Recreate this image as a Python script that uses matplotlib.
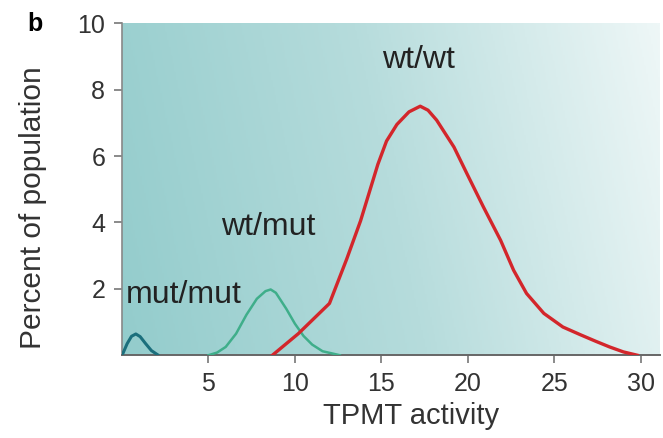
import numpy as np
import matplotlib
matplotlib.use("Agg")
import matplotlib.pyplot as plt
from matplotlib.colors import LinearSegmentedColormap

plt.rcParams['font.family'] = ['Liberation Sans', 'DejaVu Sans']

# Data
mutmut_x = [0.05, 0.3, 0.55, 0.8, 1.05, 1.35, 1.7, 2.1]
mutmut_y = [0.05, 0.35, 0.57, 0.64, 0.56, 0.36, 0.14, 0.0]

wtmut_x = [5.0, 5.5, 6.0, 6.6, 7.2, 7.8, 8.3, 8.6, 8.9, 9.5, 10.0, 10.5, 11.0, 11.6, 12.6]
wtmut_y = [0.0, 0.08, 0.25, 0.65, 1.22, 1.7, 1.93, 1.98, 1.88, 1.4, 0.95, 0.58, 0.32, 0.12, 0.0]

wtwt_x = [8.7, 10.2, 12.0, 13.0, 13.8, 14.3, 14.8, 15.3, 15.9, 16.6, 17.25, 17.7, 18.2,
          19.2, 19.95, 20.9, 21.9, 22.65, 23.4, 24.4, 25.5, 26.5, 27.4, 28.2, 29.0, 29.8]
wtwt_y = [0.0, 0.65, 1.56, 2.9, 4.05, 4.9, 5.75, 6.45, 6.95, 7.33, 7.5, 7.38, 7.08,
          6.27, 5.47, 4.47, 3.46, 2.56, 1.86, 1.26, 0.85, 0.62, 0.42, 0.25, 0.1, 0.0]

labels = ["mut/mut", "wt/mut", "wt/wt"]
label_x = [3.6, 8.47, 17.16]
label_y = [1.8, 3.87, 8.9]

xticks = [5, 10, 15, 20, 25, 30]
yticks = [2, 4, 6, 8, 10]

fig = plt.figure(figsize=(6.63, 4.38), dpi=100)
ax = fig.add_axes([0.184, 0.189, 0.811, 0.758])
ax.set_xlim(0, 31.1)
ax.set_ylim(0, 10)

# gradient background
nx, ny = 300, 200
u = np.linspace(0, 1, nx)[None, :]
v = np.linspace(0, 1, ny)[:, None]
t = np.clip(0.88 * u + 0.12 * v, 0, 1)
cmap = LinearSegmentedColormap.from_list("bg", ["#93cccc", "#b6dcdc", "#eef7f7"])
ax.imshow(t, cmap=cmap, extent=[0, 31.1, 0, 10], origin="lower",
          aspect="auto", zorder=0, vmin=0, vmax=1)

ax.plot(mutmut_x, mutmut_y, color="#1b6f7c", lw=2.2, zorder=3, solid_capstyle="round")
ax.plot(wtmut_x, wtmut_y, color="#3fae8a", lw=1.8, zorder=3, solid_joinstyle="round")
ax.plot(wtwt_x, wtwt_y, color="#d3262b", lw=2.4, zorder=4, solid_joinstyle="round")

for s, lx, ly in zip(labels, label_x, label_y):
    ax.text(lx, ly, s, ha="center", va="center", fontsize=23, color="#222222", zorder=5)

ax.set_xticks(xticks)
ax.set_yticks(yticks)
ax.tick_params(axis="both", direction="out", length=6, width=1.2, color="#777777",
               labelsize=18, labelcolor="#333333", pad=6)
for sp in ["top", "right"]:
    ax.spines[sp].set_visible(False)
ax.spines["left"].set_color("#888888")
ax.spines["left"].set_linewidth(1.2)
ax.spines["bottom"].set_color("#666666")
ax.spines["bottom"].set_linewidth(1.4)

ax.set_xlabel("TPMT activity", fontsize=21, color="#333333")
ax.set_ylabel("Percent of population", fontsize=21.5, color="#333333")
ax.xaxis.set_label_coords(0.537, -0.14)
ax.yaxis.set_label_coords(-0.14, 0.446)

fig.text(0.053, 0.945, "b", fontsize=18, fontweight="bold", ha="center", va="center")

fig.savefig("out.png", dpi=100)
